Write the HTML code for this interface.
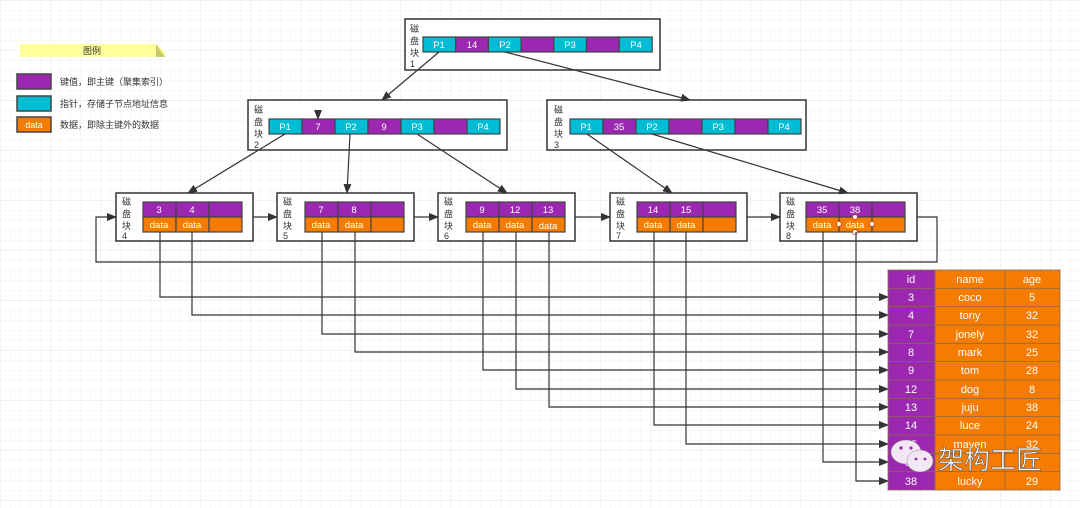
<!DOCTYPE html>
<html><head><meta charset="utf-8"><style>
html,body{margin:0;padding:0;background:#fff;}
svg{display:block;}
text{font-family:"Liberation Sans","Noto Sans CJK SC",sans-serif;}
</style></head><body>
<svg width="1080" height="508" xmlns="http://www.w3.org/2000/svg">
<defs>
<pattern id="g" width="10" height="10" patternUnits="userSpaceOnUse"><path d="M10 0H0V10" fill="none" stroke="#f0f0f0" stroke-width="1"/></pattern>
<pattern id="G" width="50" height="50" patternUnits="userSpaceOnUse"><rect width="50" height="50" fill="url(#g)"/><path d="M50 0H0V50" fill="none" stroke="#e4e4e4" stroke-width="1"/></pattern>
<marker id="a" markerWidth="10" markerHeight="8" refX="9" refY="4" orient="auto" markerUnits="userSpaceOnUse"><path d="M0 0L10 4L0 8z" fill="#333"/></marker>
</defs>
<rect width="1080" height="508" fill="url(#G)"/>

<!-- legend -->
<path d="M20 44H156L165 52V57H20Z" fill="#ffff99"/><path d="M156 44L165 57H156Z" fill="#c8c870"/>
<text x="92" y="54" font-size="9" text-anchor="middle" fill="#333">图例</text>
<rect x="17" y="74" width="34" height="15" fill="#9c27b0" stroke="#444" stroke-width="1.5"/>
<text x="60" y="85" font-size="9" fill="#333">键值，即主键（聚集索引）</text>
<rect x="17" y="96" width="34" height="15" fill="#00bcd4" stroke="#444" stroke-width="1.5"/>
<text x="60" y="107" font-size="9" fill="#333">指针，存储子节点地址信息</text>
<rect x="17" y="117" width="34" height="15" fill="#f57c00" stroke="#444" stroke-width="1.5"/>
<text x="34" y="128" font-size="9" fill="#fff" text-anchor="middle">data</text>
<text x="60" y="128" font-size="9" fill="#333">数据，即除主键外的数据</text>

<g id="nodes" font-size="9.5">
<!-- root -->
<rect x="405" y="19" width="255" height="51" fill="#fff" stroke="#333" stroke-width="1.5"/>
<text x="410" y="32" font-size="9" fill="#333">磁</text><text x="410" y="44" font-size="9" fill="#333">盘</text><text x="410" y="56" font-size="9" fill="#333">块</text><text x="410" y="67" font-size="9" fill="#333">1</text>
<!-- node2 -->
<rect x="248" y="100" width="259" height="50" fill="#fff" stroke="#333" stroke-width="1.5"/>
<text x="254" y="113" font-size="9" fill="#333">磁</text><text x="254" y="125" font-size="9" fill="#333">盘</text><text x="254" y="137" font-size="9" fill="#333">块</text><text x="254" y="148" font-size="9" fill="#333">2</text>
<!-- node3 -->
<rect x="547" y="100" width="259" height="50" fill="#fff" stroke="#333" stroke-width="1.5"/>
<text x="554" y="113" font-size="9" fill="#333">磁</text><text x="554" y="125" font-size="9" fill="#333">盘</text><text x="554" y="137" font-size="9" fill="#333">块</text><text x="554" y="148" font-size="9" fill="#333">3</text>
</g>
<g stroke="#444" stroke-width="1.2" font-size="9.5">
<!-- root cells -->
<rect x="423" y="37" width="32.7" height="15" fill="#00bcd4"/><rect x="455.7" y="37" width="32.7" height="15" fill="#9c27b0"/><rect x="488.4" y="37" width="32.7" height="15" fill="#00bcd4"/><rect x="521.1" y="37" width="32.7" height="15" fill="#9c27b0"/><rect x="553.8" y="37" width="32.7" height="15" fill="#00bcd4"/><rect x="586.5" y="37" width="32.7" height="15" fill="#9c27b0"/><rect x="619.2" y="37" width="33" height="15" fill="#00bcd4"/>
<!-- node2 cells -->
<rect x="269" y="119" width="33" height="15" fill="#00bcd4"/><rect x="302" y="119" width="33" height="15" fill="#9c27b0"/><rect x="335" y="119" width="33" height="15" fill="#00bcd4"/><rect x="368" y="119" width="33" height="15" fill="#9c27b0"/><rect x="401" y="119" width="33" height="15" fill="#00bcd4"/><rect x="434" y="119" width="33" height="15" fill="#9c27b0"/><rect x="467" y="119" width="33" height="15" fill="#00bcd4"/>
<!-- node3 cells -->
<rect x="570" y="119" width="33" height="15" fill="#00bcd4"/><rect x="603" y="119" width="33" height="15" fill="#9c27b0"/><rect x="636" y="119" width="33" height="15" fill="#00bcd4"/><rect x="669" y="119" width="33" height="15" fill="#9c27b0"/><rect x="702" y="119" width="33" height="15" fill="#00bcd4"/><rect x="735" y="119" width="33" height="15" fill="#9c27b0"/><rect x="768" y="119" width="33" height="15" fill="#00bcd4"/>
</g>
<g fill="#fff" font-size="9.5" text-anchor="middle">
<text x="439" y="48">P1</text><text x="472" y="48">14</text><text x="505" y="48">P2</text><text x="570" y="48">P3</text><text x="636" y="48">P4</text>
<text x="285" y="130">P1</text><text x="318" y="130">7</text><text x="351" y="130">P2</text><text x="384" y="130">9</text><text x="417" y="130">P3</text><text x="483" y="130">P4</text>
<text x="586" y="130">P1</text><text x="619" y="130">35</text><text x="652" y="130">P2</text><text x="718" y="130">P3</text><text x="784" y="130">P4</text>
</g>

<!-- leaves -->
<g font-size="9">
<g transform="translate(116,193)">
<rect width="137" height="48" fill="#fff" stroke="#333" stroke-width="1.5"/>
<text x="6" y="12" fill="#333">磁</text><text x="6" y="24" fill="#333">盘</text><text x="6" y="36" fill="#333">块</text><text x="6" y="46" fill="#333">4</text>
</g>
<g transform="translate(277,193)">
<rect width="137" height="48" fill="#fff" stroke="#333" stroke-width="1.5"/>
<text x="6" y="12" fill="#333">磁</text><text x="6" y="24" fill="#333">盘</text><text x="6" y="36" fill="#333">块</text><text x="6" y="46" fill="#333">5</text>
</g>
<g transform="translate(438,193)">
<rect width="137" height="48" fill="#fff" stroke="#333" stroke-width="1.5"/>
<text x="6" y="12" fill="#333">磁</text><text x="6" y="24" fill="#333">盘</text><text x="6" y="36" fill="#333">块</text><text x="6" y="46" fill="#333">6</text>
</g>
<g transform="translate(610,193)">
<rect width="137" height="48" fill="#fff" stroke="#333" stroke-width="1.5"/>
<text x="6" y="12" fill="#333">磁</text><text x="6" y="24" fill="#333">盘</text><text x="6" y="36" fill="#333">块</text><text x="6" y="46" fill="#333">7</text>
</g>
<g transform="translate(780,193)">
<rect width="137" height="48" fill="#fff" stroke="#333" stroke-width="1.5"/>
<text x="6" y="12" fill="#333">磁</text><text x="6" y="24" fill="#333">盘</text><text x="6" y="36" fill="#333">块</text><text x="6" y="46" fill="#333">8</text>
</g>
</g>
<g stroke="#444" stroke-width="1.2">
<rect x="143" y="202" width="33" height="15" fill="#9c27b0"/><rect x="176" y="202" width="33" height="15" fill="#9c27b0"/><rect x="209" y="202" width="33" height="15" fill="#9c27b0"/>
<rect x="143" y="217" width="33" height="15" fill="#f57c00"/><rect x="176" y="217" width="33" height="15" fill="#f57c00"/><rect x="209" y="217" width="33" height="15" fill="#f57c00"/>
<rect x="305" y="202" width="33" height="15" fill="#9c27b0"/><rect x="338" y="202" width="33" height="15" fill="#9c27b0"/><rect x="371" y="202" width="33" height="15" fill="#9c27b0"/>
<rect x="305" y="217" width="33" height="15" fill="#f57c00"/><rect x="338" y="217" width="33" height="15" fill="#f57c00"/><rect x="371" y="217" width="33" height="15" fill="#f57c00"/>
<rect x="466" y="202" width="33" height="15" fill="#9c27b0"/><rect x="499" y="202" width="33" height="15" fill="#9c27b0"/><rect x="532" y="202" width="33" height="15" fill="#9c27b0"/>
<rect x="466" y="217" width="33" height="15" fill="#f57c00"/><rect x="499" y="217" width="33" height="15" fill="#f57c00"/><rect x="532" y="217" width="33" height="15" fill="#f57c00"/>
<rect x="637" y="202" width="33" height="15" fill="#9c27b0"/><rect x="670" y="202" width="33" height="15" fill="#9c27b0"/><rect x="703" y="202" width="33" height="15" fill="#9c27b0"/>
<rect x="637" y="217" width="33" height="15" fill="#f57c00"/><rect x="670" y="217" width="33" height="15" fill="#f57c00"/><rect x="703" y="217" width="33" height="15" fill="#f57c00"/>
<rect x="806" y="202" width="33" height="15" fill="#9c27b0"/><rect x="839" y="202" width="33" height="15" fill="#9c27b0"/><rect x="872" y="202" width="33" height="15" fill="#9c27b0"/>
<rect x="806" y="217" width="33" height="15" fill="#f57c00"/><rect x="839" y="217" width="33" height="15" fill="#f57c00"/><rect x="872" y="217" width="33" height="15" fill="#f57c00"/>
</g>
<g fill="#fff" font-size="9.5" text-anchor="middle">
<text x="159" y="213">3</text><text x="192" y="213">4</text>
<text x="159" y="228">data</text><text x="192" y="228">data</text>
<text x="321" y="213">7</text><text x="354" y="213">8</text>
<text x="321" y="228">data</text><text x="354" y="228">data</text>
<text x="482" y="213">9</text><text x="515" y="213">12</text><text x="548" y="213">13</text>
<text x="482" y="228">data</text><text x="515" y="228">data</text><text x="548" y="229">data</text>
<text x="653" y="213">14</text><text x="686" y="213">15</text>
<text x="653" y="228">data</text><text x="686" y="228">data</text>
<text x="822" y="213">35</text><text x="855" y="213">38</text>
<text x="822" y="228">data</text><text x="855" y="228">data</text>
</g>
<g fill="#fff" stroke="#c0392b" stroke-width="0.8"><circle cx="855" cy="217" r="2.5"/><circle cx="855" cy="232" r="2.5"/><circle cx="839" cy="224" r="2.5"/><circle cx="872" cy="224" r="2.5"/></g>

<!-- connectors -->
<g stroke="#333" stroke-width="1.2" fill="none" marker-end="url(#a)">
<line x1="439" y1="52" x2="382" y2="100"/>
<line x1="505" y1="52" x2="690" y2="100"/>
<line x1="318" y1="110" x2="318" y2="119"/>
<line x1="285" y1="134" x2="188" y2="193"/>
<line x1="350" y1="134" x2="347" y2="193"/>
<line x1="417" y1="134" x2="507" y2="193"/>
<line x1="587" y1="134" x2="672" y2="193"/>
<line x1="652" y1="134" x2="848" y2="193"/>
<line x1="253" y1="217" x2="277" y2="217"/>
<line x1="414" y1="217" x2="438" y2="217"/>
<line x1="575" y1="217" x2="610" y2="217"/>
<line x1="747" y1="217" x2="780" y2="217"/>
<polyline points="917,217 937,217 937,262 96,262 96,217 116,217"/>
<polyline points="160,232 160,297 888,297"/>
<polyline points="192,232 192,315 888,315"/>
<polyline points="322,232 322,334 888,334"/>
<polyline points="355,232 355,352 888,352"/>
<polyline points="483,232 483,370 888,370"/>
<polyline points="516,232 516,389 888,389"/>
<polyline points="549,232 549,407 888,407"/>
<polyline points="654,232 654,425 888,425"/>
<polyline points="686,232 686,444 888,444"/>
<polyline points="823,232 823,462 888,462"/>
<polyline points="856,232 856,481 888,481"/>
</g>

<!-- table -->
<g stroke="#8a6a50" stroke-width="0.8">
<rect x="888" y="270" width="47" height="220" fill="#9c27b0"/>
<rect x="935" y="270" width="125" height="220" fill="#f57c00"/>
<line x1="1005" y1="270" x2="1005" y2="490"/>
<line x1="888" y1="288.3" x2="1060" y2="288.3"/><line x1="888" y1="306.6" x2="1060" y2="306.6"/><line x1="888" y1="325" x2="1060" y2="325"/><line x1="888" y1="343.3" x2="1060" y2="343.3"/><line x1="888" y1="361.6" x2="1060" y2="361.6"/><line x1="888" y1="380" x2="1060" y2="380"/><line x1="888" y1="398.3" x2="1060" y2="398.3"/><line x1="888" y1="416.6" x2="1060" y2="416.6"/><line x1="888" y1="435" x2="1060" y2="435"/><line x1="888" y1="453.3" x2="1060" y2="453.3"/><line x1="888" y1="471.6" x2="1060" y2="471.6"/>
</g>
<g fill="#fff" font-size="11" text-anchor="middle">
<text x="911" y="283">id</text><text x="970" y="283">name</text><text x="1032" y="283">age</text>
<text x="911" y="301">3</text><text x="970" y="301">coco</text><text x="1032" y="301">5</text>
<text x="911" y="319">4</text><text x="970" y="319">tony</text><text x="1032" y="319">32</text>
<text x="911" y="338">7</text><text x="970" y="338">jonely</text><text x="1032" y="338">32</text>
<text x="911" y="356">8</text><text x="970" y="356">mark</text><text x="1032" y="356">25</text>
<text x="911" y="374">9</text><text x="970" y="374">tom</text><text x="1032" y="374">28</text>
<text x="911" y="393">12</text><text x="970" y="393">dog</text><text x="1032" y="393">8</text>
<text x="911" y="411">13</text><text x="970" y="411">juju</text><text x="1032" y="411">38</text>
<text x="911" y="429">14</text><text x="970" y="429">luce</text><text x="1032" y="429">24</text>
<text x="911" y="448">15</text><text x="970" y="448">maven</text><text x="1032" y="448">32</text>
<text x="911" y="466">35</text>
<text x="911" y="485">38</text><text x="970" y="485">lucky</text><text x="1032" y="485">29</text>
</g>
<!-- watermark -->
<g>
<ellipse cx="906" cy="452" rx="15" ry="12" fill="#f3e6f5" stroke="#888" stroke-width="0.5"/>
<ellipse cx="920" cy="461" rx="13" ry="11" fill="#f3e6f5" stroke="#888" stroke-width="0.5"/>
<circle cx="901" cy="448" r="1.6" fill="#9c27b0"/><circle cx="911" cy="448" r="1.6" fill="#9c27b0"/>
<circle cx="916" cy="459" r="1.4" fill="#9c27b0"/><circle cx="925" cy="459" r="1.4" fill="#9c27b0"/>
<text x="938" y="469" font-size="26" fill="#fff" stroke="#555" stroke-width="0.6" style="font-family:'Noto Sans CJK SC',sans-serif">架构工匠</text>
</g>
</svg>
</body></html>
